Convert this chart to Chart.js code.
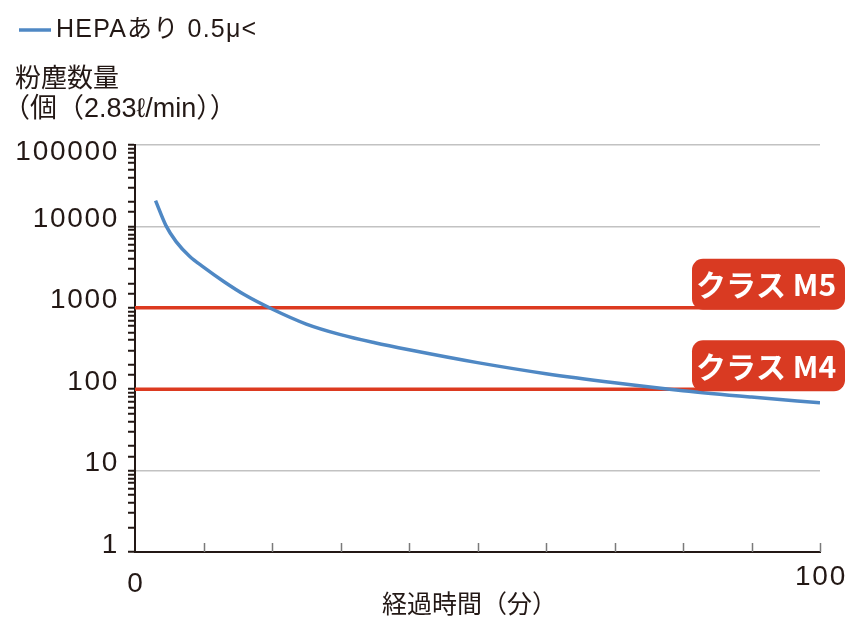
<!DOCTYPE html>
<html>
<head>
<meta charset="utf-8">
<script src="https://cdn.jsdelivr.net/npm/chart.js@4.4.1/dist/chart.umd.min.js"></script>
<style>
  body { margin: 0; background: #fff; }
</style>
</head>
<body>
<canvas id="dust-chart" width="860" height="628"></canvas>
<script>
// Gegevens
const elapsedMinutes = [3, 4.5, 6, 8, 10, 13, 16, 20, 25, 30, 35, 40, 50, 60, 70, 80, 90, 100];
const hepaCounts = [20700, 10300, 6500, 4270, 3160, 2090, 1445, 966, 631, 468, 372, 305, 212, 155, 120, 96, 80, 68];
const classNames = ['クラス M5', 'クラス M4'];
const classLimits = [1000, 100];
const yTickValues = [1, 10, 100, 1000, 10000, 100000];
const xTickLabels = [0, 100];
const xTickMarks = [10, 20, 30, 40, 50, 60, 70, 80, 90, 100];

const seriesName = 'HEPAあり 0.5μ<';
const yTitle = ['粉塵数量', '（個（2.83ℓ/min））'];
const xTitle = '経過時間（分）';

const BLUE = '#4f88c4';
const RED = '#dc3a20';
const INK = '#231815';
const NUM_FONT = '28px "Liberation Sans", Arial, sans-serif';
const JP_FONT = '"Liberation Sans", "Noto Sans CJK JP", sans-serif';

const isPow10 = v => Math.abs(Math.log10(v) - Math.round(Math.log10(v))) < 1e-9;

// Plugin voor teksten, x-tickstreepjes en de klasse-labels
const decorPlugin = {
    id: 'decor',
    afterDatasetsDraw(chart) {
        const ctx = chart.ctx;
        const x = chart.scales.x;
        const y = chart.scales.y;
        const area = chart.chartArea;
        ctx.save();

        // kleine streepjes omhoog op de x-as
        ctx.strokeStyle = '#7a7a7a';
        ctx.lineWidth = 1.5;
        xTickMarks.forEach(v => {
            const px = Math.round(x.getPixelForValue(v)) + 0.5;
            ctx.beginPath();
            ctx.moveTo(px, area.bottom);
            ctx.lineTo(px, area.bottom - 9);
            ctx.stroke();
        });

        // klasse-labels
        classLimits.forEach((v, i) => {
            const py = y.getPixelForValue(v);
            const left = area.right - 128;
            const top = py - 49;
            ctx.fillStyle = '#d93a22';
            ctx.beginPath();
            ctx.roundRect(left, top, 153, 51, 11);
            ctx.fill();
            ctx.fillStyle = '#fff';
            ctx.font = 'bold 30px "Noto Sans CJK JP", sans-serif';
            ctx.textBaseline = 'middle';
            ctx.textAlign = 'left';
            ctx.fillText(classNames[i], left + 4, top + 26);
        });

        // y-as labels
        ctx.fillStyle = INK;
        ctx.font = NUM_FONT;
        ctx.letterSpacing = '1.7px';
        ctx.textAlign = 'right';
        ctx.textBaseline = 'alphabetic';
        yTickValues.forEach(v => {
            const py = y.getPixelForValue(v);
            const base = v === 100000 ? py + 15 : py + 0.5;
            ctx.fillText(String(v), 119, base);
        });

        // x-as labels
        ctx.textAlign = 'center';
        ctx.textBaseline = 'middle';
        xTickLabels.forEach(v => {
            const px = x.getPixelForValue(v);
            ctx.fillText(String(v), px + 1, v === 0 ? 584 : 577);
        });
        ctx.letterSpacing = '0px';

        // legenda
        ctx.strokeStyle = BLUE;
        ctx.lineWidth = 3.5;
        ctx.beginPath();
        ctx.moveTo(19, 30);
        ctx.lineTo(51, 30);
        ctx.stroke();
        ctx.fillStyle = INK;
        ctx.font = '25px ' + JP_FONT;
        ctx.letterSpacing = '1.2px';
        ctx.textAlign = 'left';
        ctx.textBaseline = 'middle';
        ctx.fillText(seriesName, 56, 30);
        ctx.letterSpacing = '0px';

        // as-titels
        ctx.font = '26px "Noto Sans CJK JP", sans-serif';
        ctx.fillText(yTitle[0], 15, 77);
        ctx.font = '27px ' + JP_FONT;
        ctx.fillText(yTitle[1], 3, 110);
        ctx.font = '25px "Noto Sans CJK JP", sans-serif';
        ctx.fillText(xTitle, 382, 603);

        ctx.restore();
    }
};

const ctx = document.getElementById('dust-chart').getContext('2d');

new Chart(ctx, {
    type: 'line',
    data: {
        datasets: [
            {
                label: seriesName,
                data: elapsedMinutes.map((t, i) => ({ x: t, y: hepaCounts[i] })),
                borderColor: BLUE,
                borderWidth: 3.5,
                pointRadius: 0,
                cubicInterpolationMode: 'monotone',
                order: 0
            },
            ...classLimits.map((v, i) => ({
                label: classNames[i],
                data: [{ x: 0, y: v }, { x: 100, y: v }],
                borderColor: RED,
                borderWidth: 3.5,
                pointRadius: 0,
                order: 1
            }))
        ]
    },
    options: {
        responsive: false,
        animation: false,
        layout: { padding: { left: 0, top: 145, right: 40, bottom: 0 } },
        plugins: {
            legend: { display: false },
            title: { display: false },
            tooltip: { enabled: false }
        },
        scales: {
            x: {
                type: 'linear',
                min: 0,
                max: 100,
                grid: { display: false },
                border: { color: INK, width: 2 },
                ticks: { display: false },
                afterFit: s => { s.height = 76; }
            },
            y: {
                type: 'logarithmic',
                min: 1,
                max: 100000,
                ticks: { display: false, autoSkip: false },
                grid: {
                    color: c => (c.tick && isPow10(c.tick.value) && c.tick.value > 1) ? '#c2c2c2' : 'rgba(0,0,0,0)',
                    lineWidth: 1.5,
                    tickColor: INK,
                    tickWidth: 2,
                    tickLength: 7
                },
                border: { color: INK, width: 2 },
                afterFit: s => { s.width = 135; }
            }
        }
    },
    plugins: [decorPlugin]
});
</script>
</body>
</html>
